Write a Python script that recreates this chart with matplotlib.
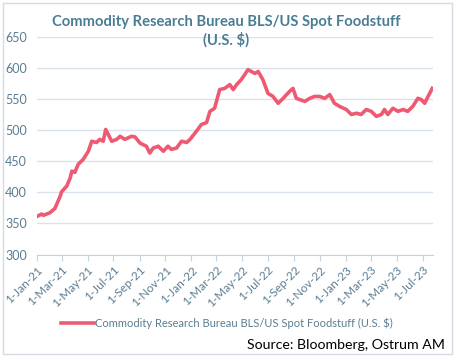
import matplotlib
matplotlib.use("Agg")
import matplotlib.pyplot as plt
import pandas as pd
from matplotlib.patches import Rectangle

title = "Commodity Research Bureau BLS/US Spot Foodstuff\n(U.S. $)"
series_name = "Commodity Research Bureau BLS/US Spot Foodstuff (U.S. $)"
source = "Source: Bloomberg, Ostrum AM"

dates = [
    "2021-01-01", "2021-01-13", "2021-01-17", "2021-02-01", "2021-02-13", "2021-02-25",
    "2021-03-01", "2021-03-13", "2021-03-21", "2021-03-25", "2021-04-01", "2021-04-09",
    "2021-04-21", "2021-05-03", "2021-05-11", "2021-05-22", "2021-05-30", "2021-06-07",
    "2021-06-13", "2021-06-27", "2021-07-09", "2021-07-17", "2021-07-28", "2021-08-13",
    "2021-08-21", "2021-09-02", "2021-09-17", "2021-09-25", "2021-10-03", "2021-10-15",
    "2021-10-27", "2021-11-07", "2021-11-15", "2021-11-27", "2021-12-09", "2021-12-21",
    "2021-12-29", "2022-01-13", "2022-01-25", "2022-02-06", "2022-02-14", "2022-02-25",
    "2022-03-09", "2022-03-21", "2022-04-02", "2022-04-10", "2022-04-18", "2022-04-29",
    "2022-05-07", "2022-05-15", "2022-05-23", "2022-05-31", "2022-06-08", "2022-06-19",
    "2022-07-01", "2022-07-13", "2022-07-25", "2022-08-06", "2022-08-14", "2022-08-21",
    "2022-08-29", "2022-09-06", "2022-09-14", "2022-09-26", "2022-10-08", "2022-10-19",
    "2022-10-31", "2022-11-12", "2022-11-24", "2022-12-05", "2022-12-17", "2023-01-02",
    "2023-01-14", "2023-01-26", "2023-02-06", "2023-02-18", "2023-03-02", "2023-03-14",
    "2023-03-26", "2023-04-02", "2023-04-10", "2023-04-22", "2023-05-04", "2023-05-16",
    "2023-05-27", "2023-06-08", "2023-06-20", "2023-06-28", "2023-07-06", "2023-07-14",
    "2023-07-24",
]
values = [
    361, 365, 363, 367, 374, 393,
    401, 410, 423, 434, 432, 445,
    453, 466, 482, 480, 485, 482,
    501, 482, 485, 490, 485, 490,
    489, 479, 474, 463, 471, 474,
    466, 474, 469, 471, 482, 480,
    485, 498, 509, 512, 530, 535,
    565, 567, 573, 565, 573, 581,
    589, 597, 594, 591, 594, 581,
    559, 554, 543, 551, 557, 562,
    567, 551, 549, 546, 551, 554,
    554, 551, 557, 543, 538, 533,
    525, 527, 525, 533, 530, 522,
    525, 533, 525, 535, 530, 533,
    530, 538, 551, 549, 543, 554,
    567,
]
tick_dates = ["2021-01-01", "2021-03-01", "2021-05-01", "2021-07-01", "2021-09-01",
              "2021-11-01", "2022-01-01", "2022-03-01", "2022-05-01", "2022-07-01",
              "2022-09-01", "2022-11-01", "2023-01-01", "2023-03-01", "2023-05-01",
              "2023-07-01"]
y_ticks = [300, 350, 400, 450, 500, 550, 600, 650]

LINE = "#ee5a72"
LABEL = "#5b7d92"
TITLE = "#4a7d94"
GRID = "#d9e2ea"

W, H = 454, 356
plt.rcParams['font.family'] = ['Lato', 'DejaVu Sans']
fig = plt.figure(figsize=(W / 100, H / 100), dpi=100)

x0, x1, y0, y1 = 36.7, 432.7, 36.7, 254.5
ax = fig.add_axes([x0 / W, 1 - y1 / H, (x1 - x0) / W, (y1 - y0) / H])

d = pd.to_datetime(dates)
ax.plot(d, values, color=LINE, lw=2.6, solid_joinstyle="round", label=series_name)

xmin = pd.Timestamp("2021-01-01")
xmax = pd.Timestamp("2023-07-25")
ax.set_xlim(xmin, xmax)
ax.set_ylim(300, 650)
ax.set_yticks(y_ticks)
ax.yaxis.grid(True, color=GRID, lw=1.0)
ax.set_axisbelow(True)
for s in ["top", "right", "left"]:
    ax.spines[s].set_visible(False)
ax.spines["bottom"].set_color("#c8d0d8")
ax.tick_params(axis="y", length=0, labelsize=9, labelcolor=LABEL, pad=7)
td = pd.to_datetime(tick_dates)
ax.set_xticks(td)
ax.set_xticklabels([t.strftime("%-d-%b-%y") for t in td], rotation=45,
                   ha="right", rotation_mode="anchor")
ax.tick_params(axis="x", length=4, color="#c8d0d8", labelsize=8.5, labelcolor=LABEL, pad=3)

fig.text(226 / W, 1 - 31 / H, title, ha="center", va="center", fontsize=10.6,
         fontweight="bold", color=TITLE, linespacing=1.25)

leg = fig.legend(loc="center", bbox_to_anchor=(227 / W, 1 - 323 / H), frameon=False,
                 fontsize=8.0, handlelength=2.9, handletextpad=0.1, labelcolor=LABEL)

fig.text(445 / W, 1 - 345 / H, source, ha="right", va="center", fontsize=10.2, color="black")

fig.patches.append(Rectangle((2.5 / W, 2.5 / H), (W - 5) / W, (H - 5) / H,
                             transform=fig.transFigure, fill=False, ec="#d4dbe2", lw=1))

fig.savefig("out.png", dpi=100)
